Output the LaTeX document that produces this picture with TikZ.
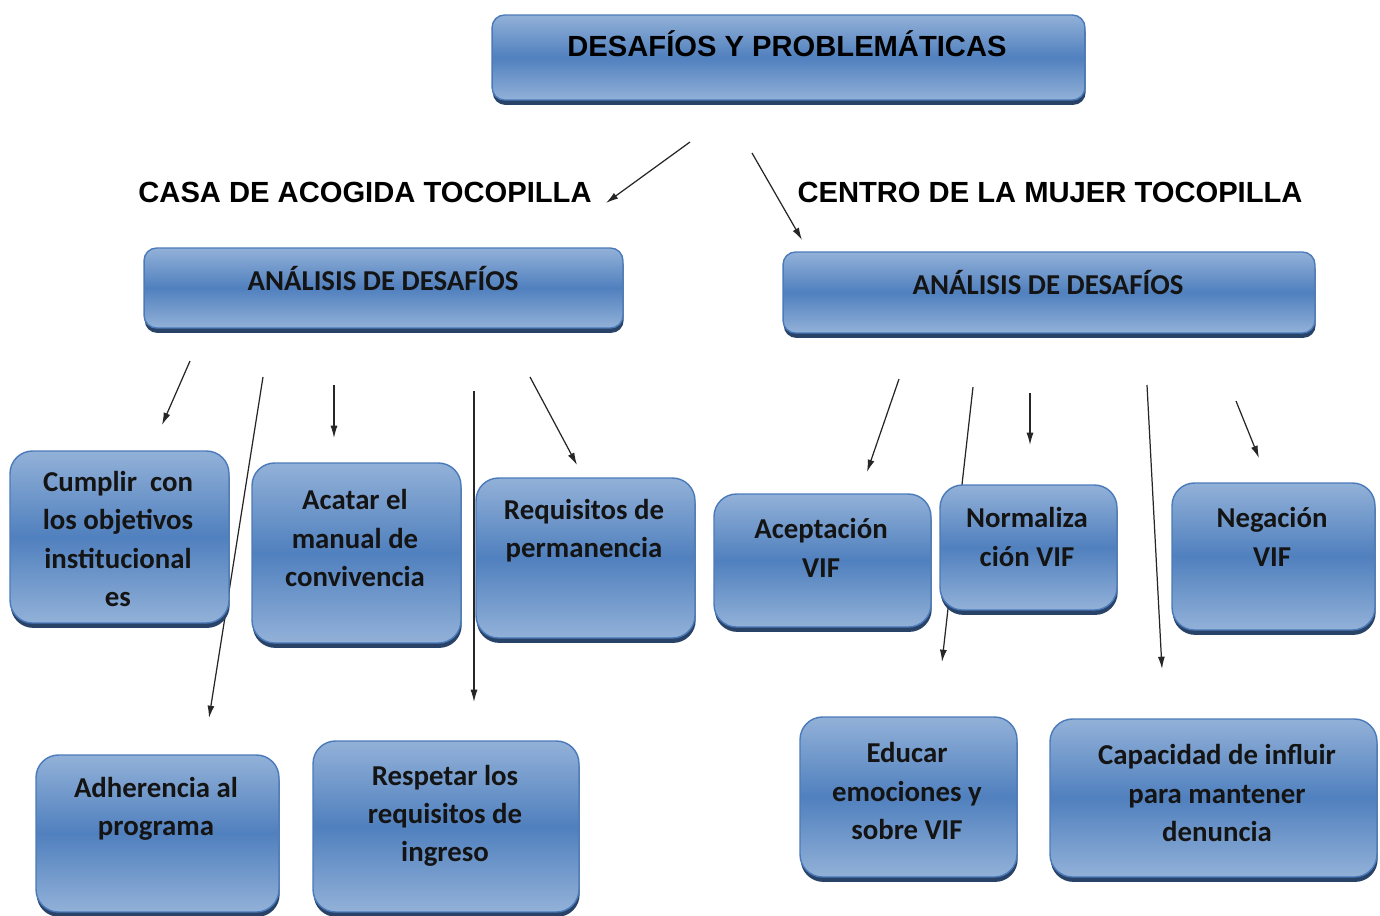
\documentclass[tikz,border=0pt]{standalone}
\usepackage{fontspec}
\setmainfont{Liberation Sans}
\newfontfamily\carlito{Carlito}
\usepackage{tikz}
\usetikzlibrary{arrows.meta, shadows, backgrounds}
\definecolor{boxlight}{RGB}{146,177,216}
\definecolor{boxmid}{RGB}{80,128,190}
\definecolor{boxline}{RGB}{74,122,186}
\definecolor{boxshadow}{RGB}{40,66,104}
\definecolor{inktext}{RGB}{20,20,20}
\tikzset{
    cbox/.style={
        rectangle,
        rounded corners=0.45cm,
        draw=boxline,
        line width=0.8pt,
        top color=boxlight,
        bottom color=boxlight,
        middle color=boxmid,
        drop shadow={shadow xshift=0.4pt, shadow yshift=-2.8pt, fill=boxshadow, opacity=1}
    },
    flatbox/.style={
        cbox,
        rounded corners=0.25cm
    },
    boxtext/.style={
        align=center,
        text=inktext,
        font=\carlito\bfseries\fontsize{16.4}{21.8}\selectfont
    },
    headtext/.style={
        text=inktext,
        font=\carlito\bfseries\fontsize{16.4}{19}\selectfont
    },
    titletext/.style={
        text=black,
        font=\bfseries\fontsize{16.6}{19}\selectfont
    },
    arr/.style={
        draw=black!85,
        line width=0.7pt,
        -{Latex[length=7pt, width=4pt]}
    }
}

\begin{document}
\begin{tikzpicture}[x=0.02cm, y=-0.02cm]
\useasboundingbox (0,0) rectangle (1380,916);

% Main title
\node[flatbox, minimum width=11.86cm, minimum height=1.7cm] (top) at (788.5,57.5) {};
\node[titletext] (toptxt) at (787,44) {DESAFÍOS Y PROBLEMÁTICAS};

% Branch headings
\node[titletext] (casa) at (365,192) {CASA DE ACOGIDA TOCOPILLA};
\node[titletext] (centro) at (1050,192) {CENTRO DE LA MUJER TOCOPILLA};

\node[flatbox, minimum width=9.58cm, minimum height=1.6cm] (analisisA) at (383.5,288) {};
\node[headtext] (analisisAtxt) at (383,278) {ANÁLISIS DE DESAFÍOS};
\node[flatbox, minimum width=10.64cm, minimum height=1.62cm] (analisisB) at (1049,292.5) {};
\node[headtext] (analisisBtxt) at (1048,282) {ANÁLISIS DE DESAFÍOS};

% Casa de acogida: challenges
\node[cbox, minimum width=4.38cm, minimum height=3.44cm] (cumplir) at (119.5,537) {};
\node[boxtext] (cumplirtxt) at (118,539) {Cumplir\ \ con\\los objetivos\\institucional\\es};
\node[cbox, minimum width=4.18cm, minimum height=3.6cm] (acatar) at (356.5,553) {};
\node[boxtext] (acatartxt) at (355,538) {Acatar el\\manual de\\convivencia};
\node[cbox, minimum width=4.38cm, minimum height=3.2cm] (permanencia) at (585.5,558) {};
\node[boxtext] (permanenciatxt) at (584,531) {Requisitos de\\permanencia};
\node[cbox, minimum width=4.86cm, minimum height=3.14cm] (adherencia) at (157.5,833.5) {};
\node[boxtext] (adherenciatxt) at (156,809) {Adherencia al\\programa};
\node[cbox, minimum width=5.32cm, minimum height=3.42cm] (ingreso) at (446,826.5) {};
\node[boxtext] (ingresotxt) at (445,816) {Respetar los\\requisitos de\\ingreso};

% Centro de la mujer: challenges
\node[cbox, minimum width=4.34cm, minimum height=2.66cm] (aceptacion) at (822.5,560.5) {};
\node[boxtext] (aceptaciontxt) at (821,548) {Aceptación\\VIF};
\node[cbox, minimum width=3.54cm, minimum height=2.5cm] (normaliza) at (1028.5,547.5) {};
\node[boxtext] (normalizatxt) at (1027,537) {Normaliza\\ción VIF};
\node[cbox, minimum width=4.06cm, minimum height=2.94cm] (negacion) at (1273.5,556.5) {};
\node[boxtext] (negaciontxt) at (1272,537) {Negación\\VIF};
\node[cbox, minimum width=4.34cm, minimum height=3.2cm] (educar) at (908.5,797) {};
\node[boxtext] (educartxt) at (907,791) {Educar\\emociones y\\sobre VIF};
\node[cbox, minimum width=6.54cm, minimum height=3.16cm] (influir) at (1213.5,798) {};
\node[boxtext] (influirtxt) at (1217,793) {Capacidad de influir\\para mantener\\denuncia};

% Loose arrows
\coordinate (t1) at (690,142);  \coordinate (t1e) at (606,203);
\coordinate (t2) at (752,153);  \coordinate (t2e) at (802,240);
\coordinate (a1) at (190,361);  \coordinate (a1e) at (162,425);
\coordinate (a2) at (263,377);  \coordinate (a2e) at (209,718);
\coordinate (a3) at (334,385);  \coordinate (a3e) at (334,438);
\coordinate (a4) at (474,391);  \coordinate (a4e) at (474,702);
\coordinate (a5) at (530,377);  \coordinate (a5e) at (577,465);
\coordinate (b1) at (899,379);  \coordinate (b1e) at (867,472);
\coordinate (b2) at (973,387);  \coordinate (b2e) at (942,662);
\coordinate (b3) at (1030,393); \coordinate (b3e) at (1030,445);
\coordinate (b4) at (1147,385); \coordinate (b4e) at (1162,669);
\coordinate (b5) at (1236,401); \coordinate (b5e) at (1259,458);

\begin{scope}[on background layer]
\foreach \s in {t1,t2,a1,a2,a3,a4,a5,b1,b2,b3,b4,b5}
    \draw[arr] (\s) -- (\s e);
\end{scope}

\end{tikzpicture}
\end{document}
